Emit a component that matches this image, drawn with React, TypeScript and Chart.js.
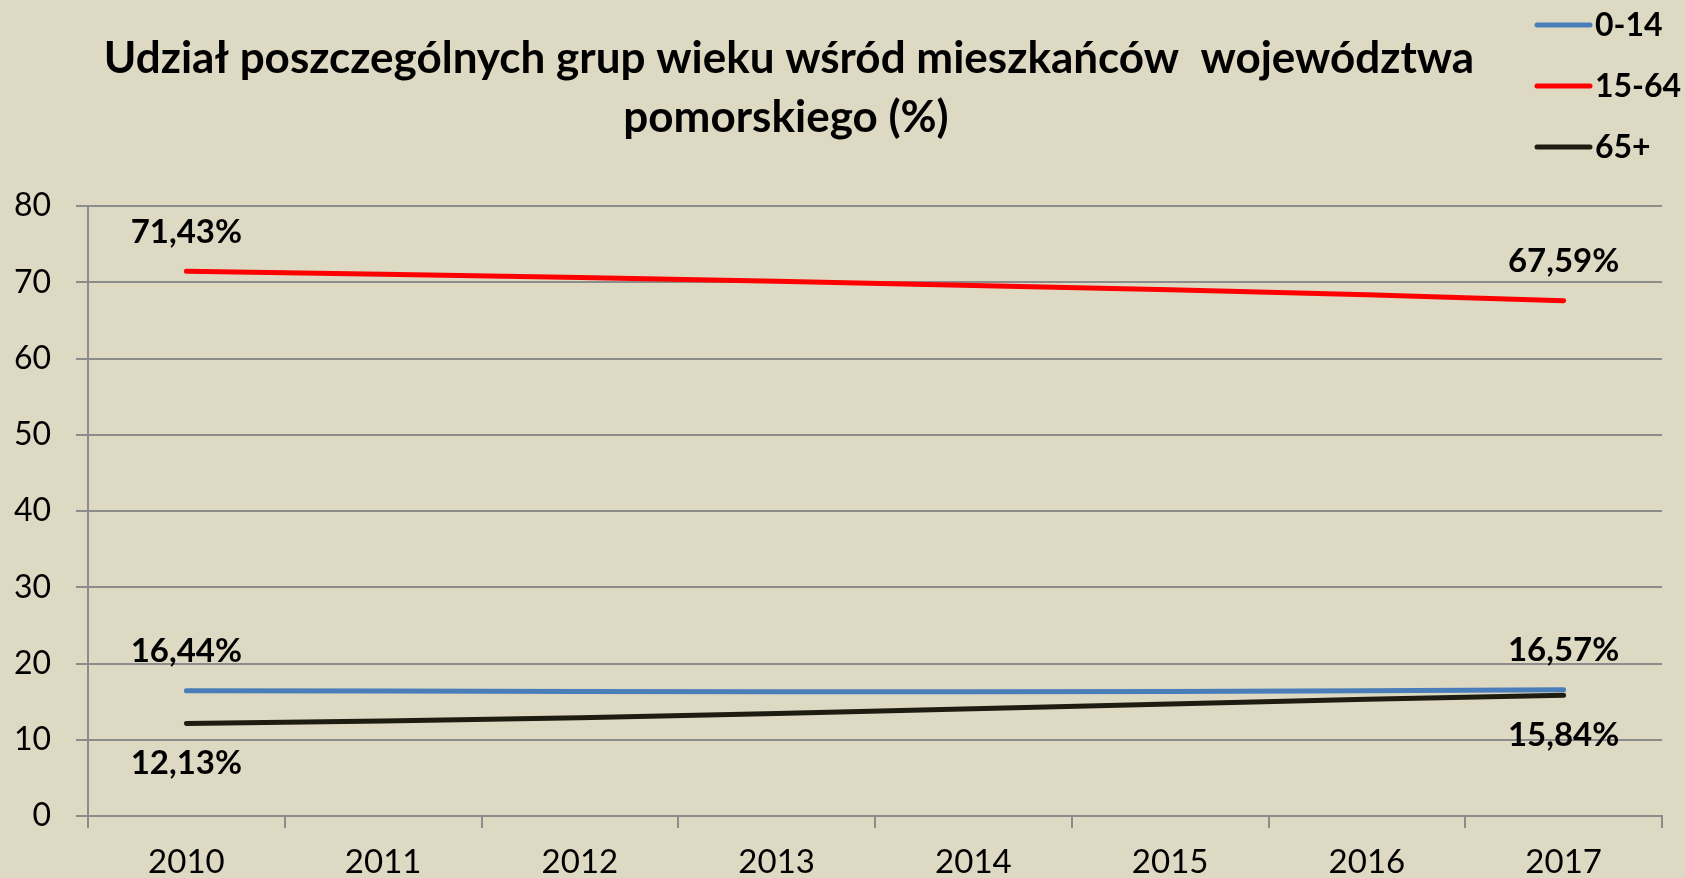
import React, { useEffect, useRef } from "react";
import { Chart, registerables } from "chart.js";

Chart.register(...registerables);

const years = ["2010", "2011", "2012", "2013", "2014", "2015", "2016", "2017"];
const group0to14 = [16.44, 16.39, 16.34, 16.31, 16.31, 16.34, 16.43, 16.57];
const group15to64 = [71.43, 71.05, 70.62, 70.12, 69.58, 69.03, 68.35, 67.59];
const group65plus = [12.13, 12.45, 12.9, 13.45, 14.05, 14.7, 15.3, 15.84];
const seriesNames = ["0-14", "15-64", "65+"];
const seriesColors = ["#4A7EBB", "#FF0000", "#1E1C11"];
const titleLines = [
  "Udział poszczególnych grup wieku wśród mieszkańców  województwa",
  "pomorskiego (%)",
];
const yTicks = [0, 10, 20, 30, 40, 50, 60, 70, 80];

const FONT = "Lato, 'Open Sans', sans-serif";
const BG = "#DDD9C3";
const GRID = "#8C8C8C";

const bgPlugin = {
  id: "bgFill",
  beforeDraw(chart: any) {
    const ctx = chart.ctx;
    ctx.save();
    ctx.fillStyle = BG;
    ctx.fillRect(0, 0, chart.width, chart.height);
    ctx.restore();
  },
};

const titlePlugin = {
  id: "customTitle",
  afterDraw(chart: any) {
    const ctx = chart.ctx;
    ctx.save();
    ctx.fillStyle = "#000";
    ctx.font = `bold 44px ${FONT}`;
    ctx.textAlign = "center";
    ctx.textBaseline = "alphabetic";
    ctx.fillText(titleLines[0], 789, 73);
    ctx.fillText(titleLines[1], 786, 132);
    ctx.restore();
  },
};

const legendPlugin = {
  id: "customLegend",
  afterDraw(chart: any) {
    const ctx = chart.ctx;
    const ys = [25, 86, 147];
    ctx.save();
    chart.data.datasets.forEach((ds: any, i: number) => {
      ctx.strokeStyle = ds.borderColor;
      ctx.lineWidth = 5;
      ctx.lineCap = "round";
      ctx.beginPath();
      ctx.moveTo(1537, ys[i]);
      ctx.lineTo(1590, ys[i]);
      ctx.stroke();
      ctx.fillStyle = "#000";
      ctx.font = `bold 32px ${FONT}`;
      ctx.textAlign = "left";
      ctx.textBaseline = "middle";
      ctx.fillText(ds.label, 1595, ys[i] + 1);
    });
    ctx.restore();
  },
};

const labelPlugin = {
  id: "endLabels",
  afterDatasetsDraw(chart: any) {
    const ctx = chart.ctx;
    ctx.save();
    ctx.fillStyle = "#000";
    ctx.font = `bold 33px ${FONT}`;
    ctx.textAlign = "center";
    ctx.textBaseline = "middle";
    chart.data.datasets.forEach((ds: any, i: number) => {
      const meta = chart.getDatasetMeta(i);
      const idxs = [0, ds.data.length - 1];
      idxs.forEach((j) => {
        const pt = meta.data[j];
        const v = ds.data[j] as number;
        const txt = v.toFixed(2).replace(".", ",") + "%";
        const dy = i === 2 ? 40 : -39;
        ctx.fillText(txt, pt.x, pt.y + dy);
      });
    });
    ctx.restore();
  },
};

export default function App() {
  const canvasRef = useRef<HTMLCanvasElement | null>(null);

  useEffect(() => {
    document.body.style.margin = "0";
    const canvas = canvasRef.current;
    if (!canvas) return;
    const chart = new Chart(canvas, {
      type: "line",
      data: {
        labels: years,
        datasets: [group0to14, group15to64, group65plus].map((d, i) => ({
          label: seriesNames[i],
          data: d,
          borderColor: seriesColors[i],
          backgroundColor: seriesColors[i],
          borderWidth: 5,
          borderCapStyle: "round" as const,
          borderJoinStyle: "round" as const,
          pointRadius: 0,
          pointHoverRadius: 0,
          tension: 0,
          fill: false,
        })),
      },
      options: {
        animation: false,
        responsive: true,
        maintainAspectRatio: false,
        layout: { padding: { top: 206, right: 23, bottom: 0, left: 0 } },
        plugins: {
          legend: { display: false },
          title: { display: false },
          tooltip: { enabled: false },
        },
        scales: {
          x: {
            type: "category",
            offset: true,
            grid: {
              offset: true,
              drawOnChartArea: false,
              drawTicks: true,
              tickLength: 12,
              color: GRID,
              lineWidth: 2,
            },
            border: { display: true, color: GRID, width: 2 },
            ticks: {
              color: "#000",
              padding: 15,
              font: { family: FONT, size: 33 },
              maxRotation: 0,
              autoSkip: false,
            },
            afterFit(scale: any) {
              scale.height = 62;
            },
          },
          y: {
            min: 0,
            max: 80,
            afterBuildTicks(scale: any) {
              scale.ticks = yTicks.map((v) => ({ value: v }));
            },
            grid: {
              color: GRID,
              lineWidth: 2,
              tickLength: 12,
              drawTicks: true,
            },
            border: { display: true, color: GRID, width: 2 },
            ticks: {
              color: "#000",
              padding: 25,
              font: { family: FONT, size: 32 },
            },
            afterFit(scale: any) {
              scale.width = 88;
            },
          },
        },
      },
      plugins: [bgPlugin, titlePlugin, legendPlugin, labelPlugin],
    });
    return () => chart.destroy();
  }, []);

  return (
    <div style={{ position: "absolute", left: 0, top: 0, width: 1685, height: 878 }}>
      <canvas ref={canvasRef} />
    </div>
  );
}
